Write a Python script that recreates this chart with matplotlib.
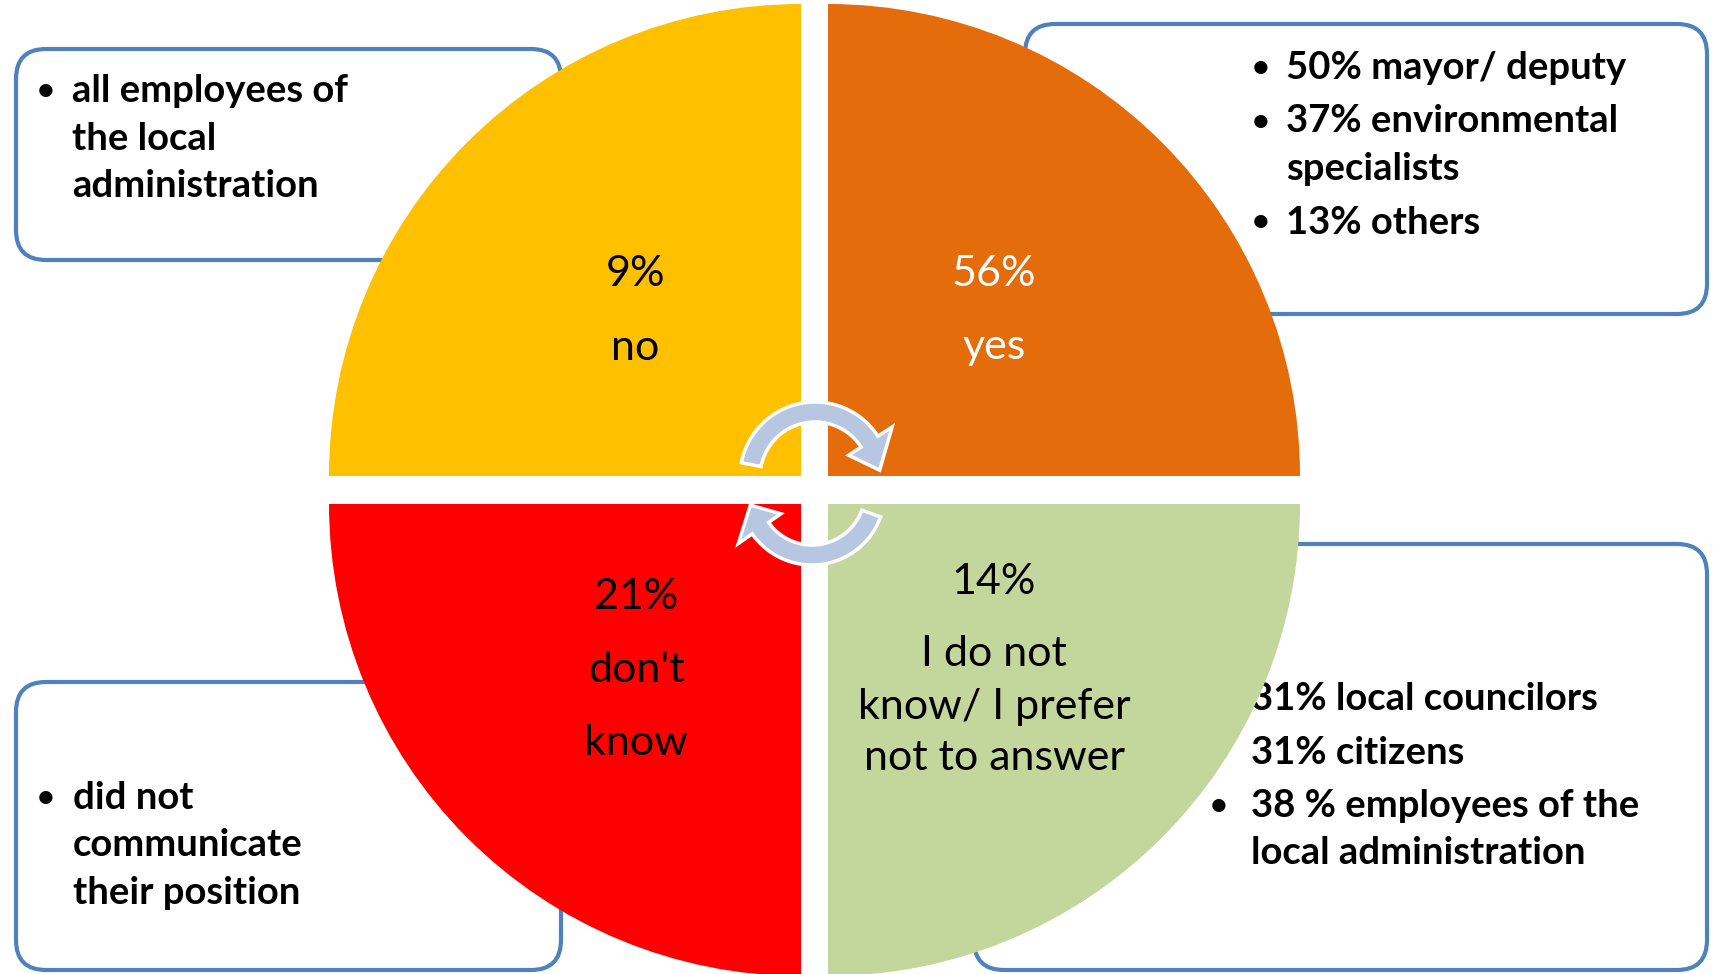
import matplotlib
matplotlib.use("Agg")
import matplotlib.pyplot as plt
from matplotlib.patches import Wedge, FancyBboxPatch, Polygon
import numpy as np

plt.rcParams['font.family'] = ['Lato', 'DejaVu Sans']

# survey answers, one per quadrant (yellow, orange, green, red)
quadrant_pcts = ["9%", "56%", "14%", "21%"]
quadrant_paras = [["no"], ["yes"], ["I do not\nknow/ I prefer\nnot to answer"], ["don't", "know"]]
quadrant_colors = ["#FFC000", "#E46C0A", "#C3D69B", "#FF0000"]
quadrant_text_colors = ["black", "white", "black", "black"]

# who answered, one box per quadrant
box_items = [
    ["all employees of\nthe local\nadministration"],
    ["50% mayor/ deputy", "37% environmental\nspecialists", "13% others"],
    ["31% local councilors", "31% citizens", "38 % employees of the\nlocal administration"],
    ["did not\ncommunicate\ntheir position"],
]

W, H = 1716, 974
fig = plt.figure(figsize=(W / 100, H / 100), dpi=100)
ax = fig.add_axes([0, 0, 1, 1])
ax.set_xlim(0, W)
ax.set_ylim(H, 0)
ax.axis("off")

border = "#4F81BD"
# boxes: x0, y0, x1, y1 and where the bullets start
boxes = [(16, 49, 561, 260), (1025, 24, 1707, 314), (974, 544, 1707, 970), (16, 682, 561, 970)]
bullet_pos = [(46, 72, 91), (1261, 1286, 68), (1219, 1251, 699), (46, 73, 798)]
line_h, para_gap = 47.5, 6

for (x0, y0, x1, y1), (xb, xt, yt), items in zip(boxes, bullet_pos, box_items):
    ax.add_patch(FancyBboxPatch((x0, y0), x1 - x0, y1 - y0,
                                boxstyle="round,pad=0,rounding_size=30",
                                fc="white", ec=border, lw=3, zorder=1))
    y = yt
    for item in items:
        ax.text(xb, y, "\u2022", fontsize=22, fontweight="bold", ha="center", va="center", zorder=2)
        for line in item.split("\n"):
            ax.text(xt, y, line, fontsize=27.5, fontweight="bold", ha="left", va="center", zorder=2)
            y += line_h
        y += para_gap

# quadrants
R = 472
corners = [(801, 476), (828, 476), (828, 504), (801, 504)]
thetas = [(180, 270), (270, 360), (0, 90), (90, 180)]
anchors = [(635, 311), (994, 311), (994, 670), (636, 670)]
para_step, wrap_step = 73, 52

for c, (t1, t2), col in zip(corners, thetas, quadrant_colors):
    ax.add_patch(Wedge(c, R, t1, t2, fc=col, ec="none", zorder=3))

for (ax_, ay), pct, paras, tc in zip(anchors, quadrant_pcts, quadrant_paras, quadrant_text_colors):
    lines = [pct]
    steps = []
    for p in paras:
        sub = p.split("\n")
        steps.append(para_step)
        steps += [wrap_step] * (len(sub) - 1)
        lines += sub
    total = sum(steps)
    y = ay - total / 2
    for i, line in enumerate(lines):
        ax.text(ax_, y, line, fontsize=31, color=tc, ha="center", va="center", zorder=4)
        if i < len(steps):
            y += steps[i]


def arc_arrow(cx, cy, r_in, r_out, a_start, a_base, a_tip, head_in, head_out):
    # circular arrow going clockwise from a_start to a_base, head tip at a_tip
    ang = np.radians(np.linspace(a_start, a_base, 60))
    outer = [(cx + r_out * np.cos(a), cy - r_out * np.sin(a)) for a in ang]
    inner = [(cx + r_in * np.cos(a), cy - r_in * np.sin(a)) for a in ang[::-1]]
    b = np.radians(a_base)
    t = np.radians(a_tip)
    rm = (r_in + r_out) / 2
    head = [(cx + head_out * np.cos(b), cy - head_out * np.sin(b)),
            (cx + rm * np.cos(t), cy - rm * np.sin(t)),
            (cx + head_in * np.cos(b), cy - head_in * np.sin(b))]
    pts = outer + head + inner
    ax.add_patch(Polygon(pts, closed=True, fc="#B7C7E1", ec="white", lw=2.5, joinstyle="miter", zorder=5))


arc_arrow(815, 477, 55, 75, 169, 33, 6, 40, 92)
arc_arrow(812, 492, 53, 73, -20, -145, -168, 38, 90)

plt.savefig("out.png", dpi=100)
